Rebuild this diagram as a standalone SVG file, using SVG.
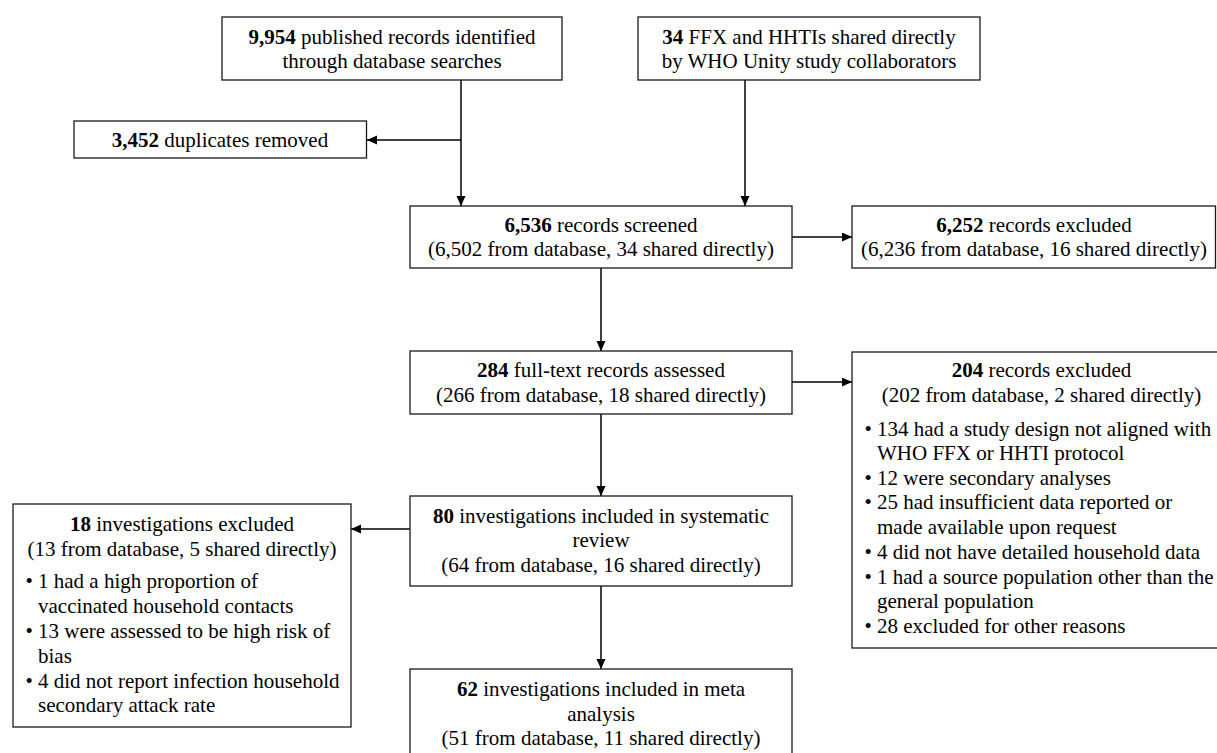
<svg xmlns="http://www.w3.org/2000/svg" width="1217" height="753" viewBox="0 0 1217 753">
<style>
.box{fill:#ffffff;stroke:#1a1a1a;stroke-width:1.3}
text{font-family:"Liberation Serif","Times New Roman",serif;font-size:21px;fill:#000}
.c{text-anchor:middle}
.b{font-weight:bold}
.conn{fill:none;stroke:#000;stroke-width:1.5}
</style>
<defs>
<marker id="ah" markerUnits="userSpaceOnUse" markerWidth="11" markerHeight="10" refX="10" refY="4.5" orient="auto">
<path d="M0,0 L10,4.5 L0,9 z" fill="#000"/>
</marker>
</defs>
<rect width="1217" height="753" fill="#ffffff"/>
<g id="connectors">
<path class="conn" d="M461,80 V206" marker-end="url(#ah)"/>
<path class="conn" d="M461,140 H367" marker-end="url(#ah)"/>
<path class="conn" d="M745,80 V206" marker-end="url(#ah)"/>
<path class="conn" d="M792,237 H852" marker-end="url(#ah)"/>
<path class="conn" d="M601,268 V351" marker-end="url(#ah)"/>
<path class="conn" d="M792,382 H852" marker-end="url(#ah)"/>
<path class="conn" d="M601,414 V496" marker-end="url(#ah)"/>
<path class="conn" d="M410,529 H351" marker-end="url(#ah)"/>
<path class="conn" d="M601,586 V669" marker-end="url(#ah)"/>
</g>
<g id="identified">
<rect class="box" x="222" y="17" width="340" height="63"/>
<text class="c" x="392" y="44"><tspan class="b">9,954</tspan> published records identified</text>
<text class="c" x="392" y="68">through database searches</text>
</g>
<g id="shared">
<rect class="box" x="638" y="17" width="342" height="63"/>
<text class="c" x="809" y="44"><tspan class="b">34</tspan> FFX and HHTIs shared directly</text>
<text class="c" x="809" y="68">by WHO Unity study collaborators</text>
</g>
<g id="duplicates">
<rect class="box" x="74" y="121" width="292.5" height="37"/>
<text class="c" x="220" y="146.5"><tspan class="b">3,452</tspan> duplicates removed</text>
</g>
<g id="screened">
<rect class="box" x="410" y="206" width="382" height="62"/>
<text class="c" x="601" y="231.5"><tspan class="b">6,536</tspan> records screened</text>
<text class="c" x="601" y="256">(6,502 from database, 34 shared directly)</text>
</g>
<g id="excluded-screen">
<rect class="box" x="852" y="206" width="363.5" height="62"/>
<text class="c" x="1034" y="231.5"><tspan class="b">6,252</tspan> records excluded</text>
<text class="c" x="1034" y="256">(6,236 from database, 16 shared directly)</text>
</g>
<g id="fulltext">
<rect class="box" x="410" y="351" width="382" height="63"/>
<text class="c" x="601" y="376.7"><tspan class="b">284</tspan> full-text records assessed</text>
<text class="c" x="601" y="401.5">(266 from database, 18 shared directly)</text>
</g>
<g id="excluded-fulltext">
<rect class="box" x="852" y="352" width="379" height="296"/>
<text class="c" x="1041.5" y="376.7"><tspan class="b">204</tspan> records excluded</text>
<text class="c" x="1041.5" y="401.5">(202 from database, 2 shared directly)</text>
<text x="864.5" y="435.5">•</text><text x="877" y="435.5">134 had a study design not aligned with</text>
<text x="877" y="460">WHO FFX or HHTI protocol</text>
<text x="864.5" y="484.6">•</text><text x="877" y="484.6">12 were secondary analyses</text>
<text x="864.5" y="509.4">•</text><text x="877" y="509.4">25 had insufficient data reported or</text>
<text x="877" y="534">made available upon request</text>
<text x="864.5" y="558.8">•</text><text x="877" y="558.8">4 did not have detailed household data</text>
<text x="864.5" y="583.6">•</text><text x="877" y="583.6">1 had a source population other than the</text>
<text x="877" y="608.4">general population</text>
<text x="864.5" y="633.2">•</text><text x="877" y="633.2">28 excluded for other reasons</text>
</g>
<g id="systematic-review">
<rect class="box" x="410" y="496" width="382" height="90"/>
<text class="c" x="601" y="522.7"><tspan class="b">80</tspan> investigations included in systematic</text>
<text class="c" x="601" y="547.3">review</text>
<text class="c" x="601" y="572.1">(64 from database, 16 shared directly)</text>
</g>
<g id="excluded-review">
<rect class="box" x="13" y="504" width="338" height="223"/>
<text class="c" x="182" y="530.7"><tspan class="b">18</tspan> investigations excluded</text>
<text class="c" x="182" y="555.5">(13 from database, 5 shared directly)</text>
<text x="25.5" y="588.3">•</text><text x="38" y="588.3">1 had a high proportion of</text>
<text x="38" y="613.1">vaccinated household contacts</text>
<text x="25.5" y="637.9">•</text><text x="38" y="637.9">13 were assessed to be high risk of</text>
<text x="38" y="662.7">bias</text>
<text x="25.5" y="687.5">•</text><text x="38" y="687.5">4 did not report infection household</text>
<text x="38" y="712.3">secondary attack rate</text>
</g>
<g id="meta-analysis">
<rect class="box" x="410" y="669" width="382" height="90"/>
<text class="c" x="601" y="696"><tspan class="b">62</tspan> investigations included in meta</text>
<text class="c" x="601" y="720.8">analysis</text>
<text class="c" x="601" y="745.4">(51 from database, 11 shared directly)</text>
</g>
</svg>
